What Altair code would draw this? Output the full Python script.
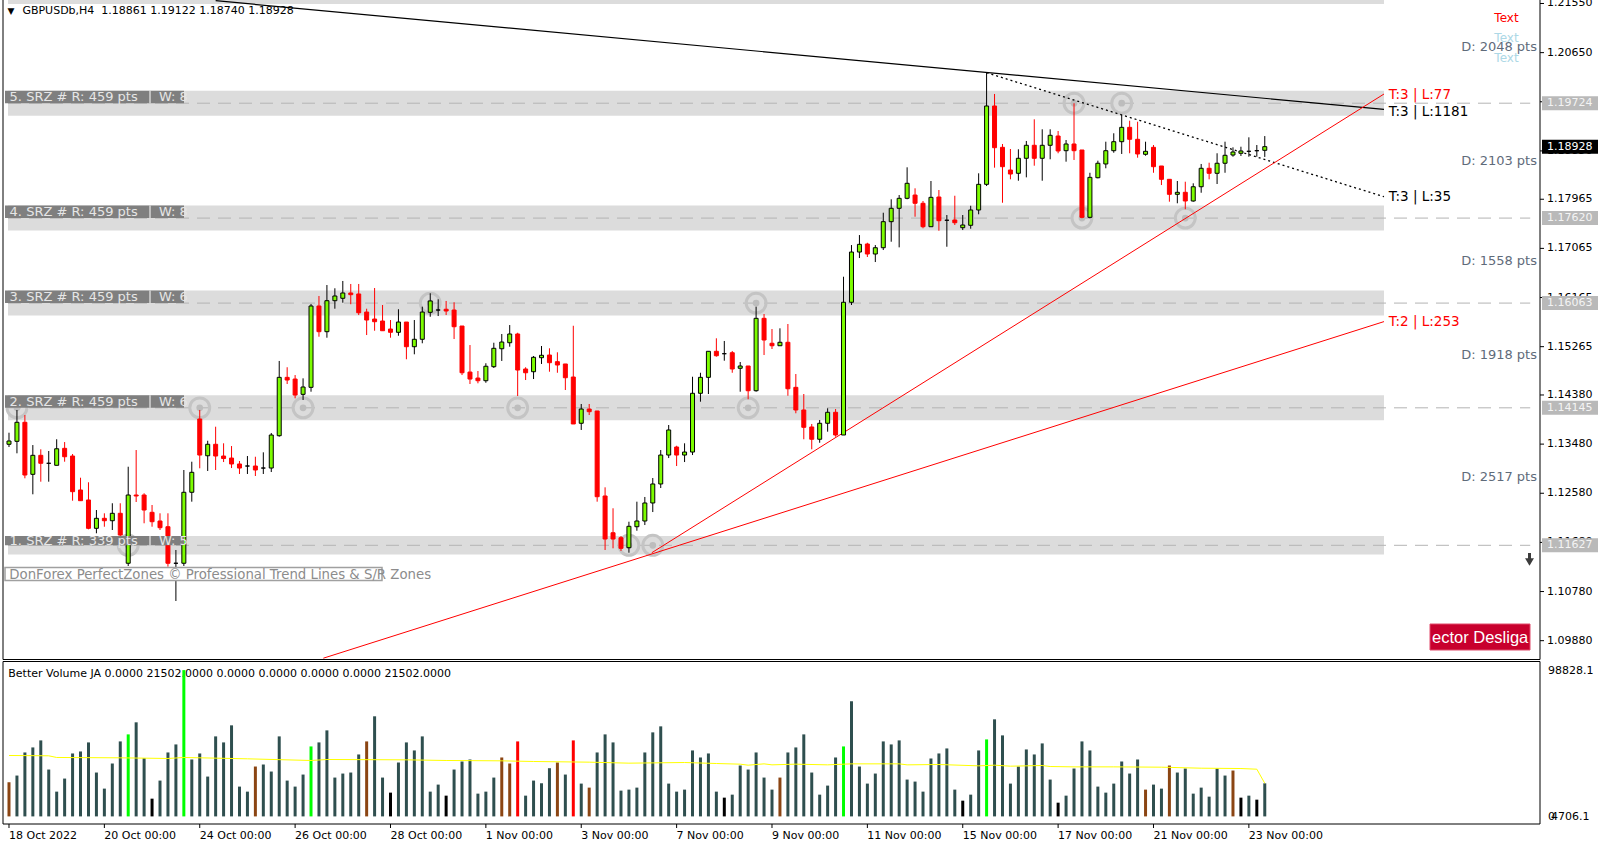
import altair as alt
import pandas as pd

# ---------------- data ----------------
SYMBOL = "GBPUSDb,H4"

OPEN = [1.13477, 1.13531, 1.13880, 1.12927, 1.13275, 1.13129, 1.13092, 1.13403, 1.13262, 1.12640,
        1.12457, 1.11938, 1.12121, 1.12077, 1.12213, 1.11298, 1.12548, 1.12548, 1.12231, 1.12072,
        1.11967, 1.11298, 1.11298, 1.12598, 1.13940, 1.13267, 1.13477, 1.13262, 1.13225, 1.13116,
        1.13079, 1.13079, 1.13042, 1.13042, 1.13634, 1.14703, 1.14672, 1.14392, 1.14520, 1.16010,
        1.15539, 1.16107, 1.16151, 1.16248, 1.16230, 1.15899, 1.15771, 1.15735, 1.15588, 1.15528,
        1.15716, 1.15264, 1.15400, 1.15894, 1.15936, 1.15950, 1.15936, 1.15643, 1.14800, 1.14690,
        1.14641, 1.14898, 1.15227, 1.15337, 1.15497, 1.14856, 1.14806, 1.15063, 1.15112, 1.14990,
        1.14948, 1.14709, 1.13862, 1.14123, 1.14087, 1.12530, 1.11857, 1.11766, 1.11583, 1.11967,
        1.12072, 1.12402, 1.12750, 1.13280, 1.13427, 1.13280, 1.13335, 1.14411, 1.14703, 1.15180,
        1.15136, 1.15154, 1.14869, 1.14911, 1.14458, 1.15784, 1.15327, 1.15282, 1.15345, 1.14520,
        1.14105, 1.13794, 1.13569, 1.13862, 1.14063, 1.13647, 1.16078, 1.16998, 1.17145, 1.16962,
        1.17077, 1.17554, 1.17799, 1.17982, 1.18042, 1.17891, 1.17462, 1.18006, 1.17580, 1.17585,
        1.17444, 1.17488, 1.17768, 1.18238, 1.19673, 1.18916, 1.18500, 1.18440, 1.18715, 1.18953,
        1.18715, 1.18953, 1.19123, 1.18854, 1.18977, 1.18867, 1.17634, 1.18359, 1.18611, 1.18854,
        1.19019, 1.19282, 1.19063, 1.18788, 1.18916, 1.18574, 1.18330, 1.18055, 1.18092, 1.17933,
        1.18194, 1.18532, 1.18440, 1.18624, 1.18775, 1.18807, 1.18843, 1.18854, 1.18861]

HIGH = [1.13689, 1.14105, 1.14013, 1.13463, 1.13385, 1.13354, 1.13569, 1.13518, 1.13299, 1.12865,
        1.12781, 1.12273, 1.12213, 1.12397, 1.12397, 1.13066, 1.13372, 1.12580, 1.12365, 1.12213,
        1.12213, 1.11541, 1.13006, 1.13158, 1.14105, 1.13542, 1.13799, 1.13495, 1.13445, 1.13171,
        1.13262, 1.13249, 1.13330, 1.13684, 1.15003, 1.14888, 1.14745, 1.14685, 1.16047, 1.16193,
        1.16394, 1.16334, 1.16468, 1.16413, 1.16413, 1.15960, 1.16339, 1.16028, 1.15753, 1.15950,
        1.15716, 1.15753, 1.15997, 1.16243, 1.16133, 1.16102, 1.16078, 1.15643, 1.15295, 1.14819,
        1.14961, 1.15337, 1.15497, 1.15661, 1.15520, 1.14888, 1.15094, 1.15277, 1.15235, 1.15162,
        1.14948, 1.15648, 1.14215, 1.14215, 1.14087, 1.12689, 1.12305, 1.11797, 1.12059, 1.12426,
        1.12512, 1.12859, 1.13372, 1.13830, 1.13450, 1.13495, 1.14714, 1.14787, 1.15180, 1.15418,
        1.15369, 1.15186, 1.14984, 1.14911, 1.15997, 1.15863, 1.15588, 1.15601, 1.15680, 1.14764,
        1.14398, 1.13849, 1.13922, 1.14136, 1.14123, 1.16546, 1.17126, 1.17309, 1.17168, 1.17126,
        1.17718, 1.17964, 1.18042, 1.18550, 1.18165, 1.17933, 1.18299, 1.18134, 1.17676, 1.18029,
        1.17676, 1.17846, 1.18440, 1.20282, 1.19893, 1.18977, 1.18885, 1.18880, 1.19032, 1.19429,
        1.19246, 1.19246, 1.19215, 1.19050, 1.19723, 1.18867, 1.18450, 1.18671, 1.19019, 1.19173,
        1.19507, 1.19403, 1.19385, 1.19019, 1.18958, 1.18574, 1.18330, 1.18299, 1.18286, 1.18257,
        1.18611, 1.18634, 1.18807, 1.19019, 1.18916, 1.18927, 1.19099, 1.18958, 1.19122]

LOW = [1.13427, 1.13312, 1.12854, 1.12561, 1.12792, 1.12792, 1.13092, 1.13158, 1.12444, 1.12439,
       1.11920, 1.11847, 1.11967, 1.11907, 1.11706, 1.11248, 1.12420, 1.12030, 1.11967, 1.11907,
       1.11235, 1.10607, 1.11248, 1.12426, 1.13037, 1.12988, 1.13006, 1.13152, 1.13042, 1.12933,
       1.12933, 1.12896, 1.12933, 1.12969, 1.13616, 1.14581, 1.14319, 1.14288, 1.14440, 1.15447,
       1.15429, 1.15960, 1.16070, 1.16042, 1.15844, 1.15478, 1.15557, 1.15557, 1.15429, 1.15465,
       1.15034, 1.15125, 1.15327, 1.15813, 1.15826, 1.15844, 1.15405, 1.14745, 1.14581, 1.14594,
       1.14604, 1.14874, 1.15003, 1.15264, 1.14361, 1.14654, 1.14672, 1.14948, 1.14806, 1.14787,
       1.14471, 1.13849, 1.13739, 1.14013, 1.12426, 1.11541, 1.11572, 1.11523, 1.11491, 1.11894,
       1.11998, 1.12236, 1.12676, 1.13225, 1.13079, 1.13152, 1.13280, 1.14257, 1.14398, 1.15081,
       1.15008, 1.14787, 1.14440, 1.14301, 1.14440, 1.15112, 1.15222, 1.15282, 1.14366, 1.14045,
       1.13569, 1.13385, 1.13505, 1.13708, 1.13616, 1.13647, 1.16028, 1.16888, 1.16907, 1.16815,
       1.17035, 1.17187, 1.17084, 1.17964, 1.17645, 1.17433, 1.17462, 1.17388, 1.17095, 1.17493,
       1.17401, 1.17425, 1.17689, 1.18207, 1.18543, 1.17901, 1.18330, 1.18304, 1.18366, 1.18579,
       1.18304, 1.18697, 1.18807, 1.18653, 1.18684, 1.17616, 1.17616, 1.18348, 1.18532, 1.18817,
       1.18794, 1.18807, 1.18726, 1.18762, 1.18450, 1.18225, 1.17920, 1.17891, 1.17781, 1.17920,
       1.18084, 1.18330, 1.18244, 1.18450, 1.18744, 1.18757, 1.18744, 1.18744, 1.18740]

CLOSE = [1.13537, 1.13880, 1.12914, 1.13275, 1.13129, 1.13129, 1.13395, 1.13249, 1.12609, 1.12444,
         1.11938, 1.12121, 1.12077, 1.12213, 1.11815, 1.12548, 1.12530, 1.12273, 1.12059, 1.11949,
         1.11298, 1.11298, 1.12598, 1.12964, 1.13280, 1.13477, 1.13262, 1.13216, 1.13116, 1.13042,
         1.13079, 1.13006, 1.13042, 1.13647, 1.14703, 1.14654, 1.14379, 1.14526, 1.16010, 1.15539,
         1.16107, 1.16193, 1.16248, 1.16217, 1.15886, 1.15753, 1.15722, 1.15557, 1.15528, 1.15716,
         1.15264, 1.15400, 1.15899, 1.16102, 1.15936, 1.15918, 1.15630, 1.14787, 1.14672, 1.14641,
         1.14906, 1.15235, 1.15350, 1.15497, 1.14837, 1.14787, 1.15070, 1.15107, 1.14971, 1.14929,
         1.14696, 1.13849, 1.14123, 1.14074, 1.12517, 1.11742, 1.11742, 1.11572, 1.11975, 1.12072,
         1.12402, 1.12750, 1.13280, 1.13739, 1.13280, 1.13335, 1.14411, 1.14703, 1.15180, 1.15099,
         1.15136, 1.14856, 1.14911, 1.14458, 1.15784, 1.15387, 1.15282, 1.15345, 1.14494, 1.14105,
         1.13788, 1.13569, 1.13862, 1.14063, 1.13647, 1.16078, 1.16998, 1.17139, 1.16962, 1.17077,
         1.17554, 1.17799, 1.17982, 1.18257, 1.17891, 1.17462, 1.18000, 1.17572, 1.17580, 1.17535,
         1.17493, 1.17768, 1.18238, 1.19673, 1.18909, 1.18561, 1.18427, 1.18715, 1.18953, 1.18715,
         1.18953, 1.19136, 1.18849, 1.18977, 1.18854, 1.17634, 1.18366, 1.18624, 1.18854, 1.19019,
         1.19282, 1.19063, 1.18794, 1.18843, 1.18561, 1.18330, 1.18055, 1.18092, 1.17933, 1.18194,
         1.18532, 1.18440, 1.18624, 1.18770, 1.18830, 1.18849, 1.18843, 1.18854, 1.18928]

VOLUME = [22200, 26550, 41560, 44830, 49400, 30460, 16100, 24590, 40910, 42210,
          48090, 28510, 18060, 34380, 48740, 53310, 61150, 37860, 11530, 23280,
          41560, 46780, 95090, 36990, 40910, 25890, 52010, 48090, 59190, 19370,
          16100, 32420, 33730, 29160, 52010, 23280, 19370, 27200, 45480, 48090,
          55920, 25240, 27850, 28510, 40260, 48740, 65060, 25240, 15450, 35030,
          48090, 42870, 52010, 16100, 20670, 13490, 30460, 35690, 36990, 14800,
          16100, 25240, 38300, 34380, 48740, 13490, 23280, 21540, 31330, 35030,
          27200, 49400, 21320, 18710, 41560, 53310, 48090, 16760, 17410, 18710,
          41560, 54620, 58530, 21320, 16100, 17410, 42870, 38300, 40910, 16100,
          12190, 14140, 33080, 30460, 41560, 25240, 17410, 25240, 41560, 44830,
          53310, 28510, 14140, 20020, 38300, 45480, 74850, 32420, 21320, 27850,
          48740, 46780, 49400, 23940, 22630, 16100, 37640, 40910, 44170, 17410,
          10230, 14140, 42870, 50050, 63100, 52660, 21320, 32420, 43520, 40260,
          47440, 23940, 8920, 13490, 31120, 48740, 42870, 19370, 15450, 21320,
          35690, 27850, 36990, 17410, 20670, 18060, 33080, 28510, 31120, 14800,
          18710, 12840, 31120, 26550, 29810, 12190, 13490, 10880, 21502]

# bars whose volume column is not the normal dark one
VOL_KIND = {0: "brown", 15: "green", 18: "black", 22: "green", 31: "brown", 38: "green",
            45: "brown", 48: "black", 55: "black", 62: "brown", 63: "brown", 64: "red",
            69: "brown", 71: "red", 73: "brown", 90: "black", 97: "brown", 105: "green",
            120: "black", 123: "green", 132: "black", 143: "brown", 146: "brown",
            154: "brown", 155: "black", 157: "black"}

# volume average line (bar, value)
MA_BARS = [0, 5, 6, 14, 20, 22, 30, 38, 40, 50, 55, 62, 66, 73, 78, 85, 89, 92, 93, 95, 96, 99,
           103, 106, 112, 113, 117, 122, 124, 126, 130, 131, 134, 139, 145, 150, 155, 157, 158]
MA_VALUES = [39600, 39390, 38300, 38080, 37640, 38300, 37430, 36340, 36990, 36770, 36340, 36120,
             35690, 35250, 34600, 35030, 34380, 33950, 33290, 34160, 33510, 33950, 33510, 34160,
             34160, 33510, 33730, 32860, 33290, 32640, 33080, 32420, 32200, 32200, 31990, 31330,
             31120, 30680, 21540]

X_TICK_BARS = [0, 12, 24, 36, 48, 60, 72, 84, 96, 108, 120, 132, 144, 156]
X_TICK_LABELS = ["18 Oct 2022", "20 Oct 00:00", "24 Oct 00:00", "26 Oct 00:00", "28 Oct 00:00",
                 "1 Nov 00:00", "3 Nov 00:00", "7 Nov 00:00", "9 Nov 00:00", "11 Nov 00:00",
                 "15 Nov 00:00", "17 Nov 00:00", "21 Nov 00:00", "23 Nov 00:00"]
PRICE_TICKS = [1.2155, 1.2065, 1.1975, 1.1885, 1.17965, 1.17065, 1.16165, 1.15265,
               1.1438, 1.1348, 1.1258, 1.1168, 1.1078, 1.0988]
VOL_AXIS_TOP = "98828.1"
VOL_AXIS_BOTTOM = ["0", "4706.1"]

# support / resistance zones
ZONE_LEVELS = [1.11627, 1.14145, 1.16063, 1.17620, 1.19724, 1.21772]
ZONE_RANGE_PTS = [339, 459, 459, 459, 459, 459]
ZONE_NAMES = ["1. SRZ # R: 339 pts", "2. SRZ # R: 459 pts", "3. SRZ # R: 459 pts",
              "4. SRZ # R: 459 pts", "5. SRZ # R: 459 pts", ""]
ZONE_WEIGHTS = ["W: 5", "W: 6", "W: 6", "W: 8", "W: 8", ""]
D_LABELS = ["D: 2517 pts", "D: 1918 pts", "D: 1558 pts", "D: 2103 pts", "D: 2048 pts"]
ZONE_END_BAR = 173
DASH_END_BAR = 191.4

# touch markers (bar, zone level)
TOUCH_BARS = [15, 78, 81, 1, 24, 37, 64, 93, 53, 94, 135, 148, 134, 140]
TOUCH_LEVELS = [1.11627, 1.11627, 1.11627, 1.14145, 1.14145, 1.14145, 1.14145, 1.14145,
                1.16063, 1.16063, 1.17620, 1.17620, 1.19724, 1.19724]

# trend lines
TL_TEXT = ["T:3 | L:1181", "T:3 | L:35", "T:3 | L:77", "T:2 | L:253"]
TL_BAR0 = [26.0, 123.0, 80.875, 39.55]
TL_P0 = [1.21601, 1.20282, 1.11491, 1.09559]
TL_BAR1 = [173.0, 173.0, 173.0, 173.0]
TL_P1 = [1.19610, 1.18011, 1.19892, 1.15724]
TL_LABEL_P = [1.19568, 1.18006, 1.19874, 1.15711]

LAST_PRICE = CLOSE[-1]

# ---------------- scales ----------------
W, H = 1537, 824
X_DOM = [-0.125, 192.0]
PRICE_DOM = [1.065226, 1.216141]
VOL_DOM = [-4940, 530660]
FONT = "DejaVu Sans"


def PX(f):
    return alt.X(f, scale=alt.Scale(domain=X_DOM, nice=False, zero=False), axis=None)


def PY(f):
    return alt.Y(f, scale=alt.Scale(domain=PRICE_DOM, nice=False, zero=False), axis=None)


def VY(f):
    return alt.Y(f, scale=alt.Scale(domain=VOL_DOM, nice=False, zero=False), axis=None)


def RAWX(f):
    return alt.X(f, scale=None, axis=None)


def RAWY(f):
    return alt.Y(f, scale=None, axis=None)


n = len(OPEN)
cd = pd.DataFrame({"i": list(range(n)), "o": OPEN, "h": HIGH, "l": LOW, "c": CLOSE})
cd["wick"] = ["#FF0000" if c < o else "#000000" for o, c in zip(OPEN, CLOSE)]
cd["fill"] = ["#7CFC00" if c > o else ("#FF0000" if c < o else "#000000") for o, c in zip(OPEN, CLOSE)]
cd["edge"] = ["#FF0000" if c < o else "#000000" for o, c in zip(OPEN, CLOSE)]

VOL_COLORS = {"normal": "#2F4F4F", "green": "#00FF00", "red": "#FF0000",
              "brown": "#8B4513", "black": "#000000"}
vd = pd.DataFrame({"i": list(range(n)), "v": VOLUME})
vd["base"] = 0
vd["col"] = [VOL_COLORS[VOL_KIND.get(k, "normal")] for k in range(n)]
mad = pd.DataFrame({"i": MA_BARS, "v": MA_VALUES})

zd = pd.DataFrame({"level": ZONE_LEVELS, "pts": ZONE_RANGE_PTS, "name": ZONE_NAMES, "w": ZONE_WEIGHTS})
zd["top"] = zd["level"] + zd["pts"] * 0.00001 / 2
zd["bot"] = zd["level"] - zd["pts"] * 0.00001 / 2
zd["mid"] = (zd["top"] + zd["level"]) / 2
zd["x0"] = X_DOM[0]
zd["x1"] = ZONE_END_BAR
zd["xd"] = DASH_END_BAR
zl = zd[zd["name"] != ""].reset_index(drop=True)

dd = pd.DataFrame({"text": D_LABELS,
                   "y": [(a + b) / 2 for a, b in zip(ZONE_LEVELS[:-1], ZONE_LEVELS[1:])]})

td = pd.DataFrame({"i": TOUCH_BARS, "p": TOUCH_LEVELS})

rows = []
for k in range(len(TL_TEXT)):
    rows.append({"id": k, "i": TL_BAR0[k], "p": TL_P0[k]})
    rows.append({"id": k, "i": TL_BAR1[k], "p": TL_P1[k]})
tld = pd.DataFrame(rows)
tl_black = tld[tld["id"] == 0]
tl_dot = tld[tld["id"] == 1]
tl_red = tld[tld["id"] >= 2]
tll = pd.DataFrame({"i": [b + 0.6 for b in TL_BAR1], "p": TL_LABEL_P, "text": TL_TEXT,
                    "col": ["#000000", "#000000", "#FF0000", "#FF0000"]})

half_box = 7 / 5460
bx = pd.DataFrame({"p": ZONE_LEVELS[:5] + [LAST_PRICE]})
bx["top"] = bx["p"] + half_box
bx["bot"] = bx["p"] - half_box
bx["fill"] = ["#B9B9B9"] * 5 + ["#000000"]
bx["tcol"] = ["#F4F4F4"] * 5 + ["#FFFFFF"]
bx["text"] = [f"{v:.5f}" for v in bx["p"]]

ptk = pd.DataFrame({"p": PRICE_TICKS, "label": [f"{v:.5f}" for v in PRICE_TICKS]})
xtk = pd.DataFrame({"i": X_TICK_BARS, "label": X_TICK_LABELS})

# ---------------- price panel ----------------
bands = alt.Chart(zd).mark_rect(color="#DCDCDC").encode(
    x=PX("x0:Q"), x2="x1:Q", y=PY("bot:Q"), y2="top:Q")
dashes = alt.Chart(zl).mark_rule(color="#B4B4B4", strokeWidth=1, strokeDash=[13, 8]).encode(
    x=PX("x0:Q"), x2="xd:Q", y=PY("level:Q"))
rings = alt.Chart(td).mark_point(shape="circle", size=395, strokeWidth=3, filled=False,
                                 color="#C4C4C4", opacity=1).encode(x=PX("i:Q"), y=PY("p:Q"))
dots = alt.Chart(td).mark_point(shape="circle", size=45, filled=True,
                                color="#BDBDBD", opacity=1).encode(x=PX("i:Q"), y=PY("p:Q"))
line_black = alt.Chart(tl_black).mark_line(color="#000000", strokeWidth=1.2).encode(
    x=PX("i:Q"), y=PY("p:Q"))
line_dot = alt.Chart(tl_dot).mark_line(color="#000000", strokeWidth=1.3, strokeDash=[2, 3]).encode(
    x=PX("i:Q"), y=PY("p:Q"))
line_red = alt.Chart(tl_red).mark_line(color="#FF0000", strokeWidth=1).encode(
    x=PX("i:Q"), y=PY("p:Q"), detail="id:N")

wicks = alt.Chart(cd).mark_rule(strokeWidth=1).encode(
    x=PX("i:Q"), y=PY("l:Q"), y2="h:Q", color=alt.Color("wick:N", scale=None))
bodies = alt.Chart(cd).mark_bar(size=4, strokeWidth=1).encode(
    x=PX("i:Q"), y=PY("o:Q"), y2="c:Q",
    fill=alt.Fill("fill:N", scale=None), stroke=alt.Stroke("edge:N", scale=None))

zbox = alt.Chart(zl).mark_rect(color="#7F7F7F").encode(
    x=alt.value(2), x2=alt.value(181), y=PY("top:Q"), y2="level:Q")
zsep = alt.Chart(zl).mark_rule(color="#FFFFFF", strokeWidth=1).encode(
    x=alt.value(147), y=PY("top:Q"), y2="level:Q")
zname = alt.Chart(zl).mark_text(align="left", baseline="middle", font=FONT, fontSize=13,
                                color="#E6E6E6").encode(x=alt.value(6.6), y=PY("mid:Q"), text="name:N")
zw = alt.Chart(zl).mark_text(align="left", baseline="middle", font=FONT, fontSize=13,
                             color="#E6E6E6").encode(x=alt.value(156), y=PY("mid:Q"), text="w:N")

dlab = alt.Chart(dd).mark_text(align="right", baseline="middle", font=FONT, fontSize=13,
                               color="#5F6B7A").encode(x=alt.value(1534), y=PY("y:Q"), text="text:N")
tlab = alt.Chart(tll).mark_text(align="left", baseline="middle", font=FONT, fontSize=13.5).encode(
    x=PX("i:Q"), y=PY("p:Q"), text="text:N", color=alt.Color("col:N", scale=None))

# right price scale drawn by hand (ticks + labels placed through the price scale)
ptick = alt.Chart(ptk).mark_rule(color="#000000", strokeWidth=1).encode(
    x=alt.value(W), x2=alt.value(W + 4), y=PY("p:Q"))
plabel = alt.Chart(ptk).mark_text(align="left", baseline="middle", font=FONT, fontSize=11,
                                  color="#000000").encode(x=alt.value(W + 7), y=PY("p:Q"), text="label:N")

pbox = alt.Chart(bx).mark_rect().encode(
    x=alt.value(1539), x2=alt.value(1595), y=PY("top:Q"), y2="bot:Q",
    fill=alt.Fill("fill:N", scale=None))
ptxt = alt.Chart(bx).mark_text(align="left", baseline="middle", font=FONT, fontSize=11).encode(
    x=alt.value(1544), y=PY("p:Q"), text="text:N", color=alt.Color("tcol:N", scale=None))

price = alt.layer(bands, dashes, rings, dots, line_black, line_dot, line_red, wicks, bodies,
                  zbox, zsep, zname, zw, dlab, tlab, ptick, plabel, pbox, ptxt)

# ---------------- volume panel ----------------
vhead = alt.Chart(pd.DataFrame({"px": [5.3], "py": [673.7],
                                "t": ["Better Volume JA 0.0000 21502.0000 0.0000 0.0000 0.0000 0.0000 21502.0000"]})
                  ).mark_text(align="left", baseline="middle", font=FONT, fontSize=11, color="#000000"
                              ).encode(x=RAWX("px:Q"), y=RAWY("py:Q"), text="t:N")
vbars = alt.Chart(vd).mark_bar(size=3).encode(
    x=PX("i:Q"), y=VY("v:Q"), y2="base:Q", color=alt.Color("col:N", scale=None))
maline = alt.Chart(mad).mark_line(color="#FFFF00", strokeWidth=1).encode(
    x=PX("i:Q"), y=VY("v:Q"))
xtick = alt.Chart(xtk).mark_rule(color="#000000", strokeWidth=1).encode(
    x=PX("i:Q"), y=alt.value(H), y2=alt.value(H + 4))
xlabel = alt.Chart(xtk).mark_text(align="left", baseline="top", font=FONT, fontSize=11,
                                  color="#000000").encode(x=PX("i:Q"), y=alt.value(H + 6), text="label:N")
vol = alt.layer(vhead, vbars, maline, xtick, xlabel)

# ---------------- decorations in pixel space ----------------
header = f"{SYMBOL}\u00a0\u00a0{OPEN[-1]:.5f} {HIGH[-1]:.5f} {LOW[-1]:.5f} {CLOSE[-1]:.5f}"
left_txt = pd.DataFrame({
    "px": [4.6, 19.4, 1545, 1545, 1548],
    "py": [11.4, 11.4, 670.8, 817.4, 817.4],
    "t": ["\u25bc", header, VOL_AXIS_TOP] + VOL_AXIS_BOTTOM,
    "col": ["#000000"] * 5,
    "fs": [9, 11, 11, 11, 11],
})
ltext = alt.Chart(left_txt).mark_text(align="left", baseline="middle", font=FONT).encode(
    x=RAWX("px:Q"), y=RAWY("py:Q"), text="t:N",
    color=alt.Color("col:N", scale=None), size=alt.Size("fs:Q", scale=None))

ctr_txt = pd.DataFrame({"px": [1503.5, 1503.5, 1503.5], "py": [18.3, 38.3, 58.3],
                        "t": ["Text", "Text", "Text"], "col": ["#FF0000", "#ADD8E6", "#ADD8E6"]})
ctext = alt.Chart(ctr_txt).mark_text(align="center", baseline="middle", font=FONT, fontSize=12).encode(
    x=RAWX("px:Q"), y=RAWY("py:Q"), text="t:N", color=alt.Color("col:N", scale=None))

don_box = alt.Chart(pd.DataFrame({"a": [2], "b": [379], "c": [567.5], "d": [580.5]})).mark_rect(
    fill="#FFFFFF", stroke="#A0A0A0", strokeWidth=1.5).encode(
    x=RAWX("a:Q"), x2="b:Q", y=RAWY("c:Q"), y2="d:Q")
don_txt = alt.Chart(pd.DataFrame({"px": [6.3], "py": [574.5],
                                  "t": ["DonForex PerfectZones \u00a9 Professional Trend Lines & S/R Zones"]})
                    ).mark_text(align="left", baseline="middle", font=FONT, fontSize=13.3, color="#8C8C8C"
                                ).encode(x=RAWX("px:Q"), y=RAWY("py:Q"), text="t:N")

btn = alt.Chart(pd.DataFrame({"a": [1427], "b": [1527], "c": [624], "d": [650]})).mark_rect(
    fill="#C8002D", stroke="#E04A6A", strokeWidth=1).encode(
    x=RAWX("a:Q"), x2="b:Q", y=RAWY("c:Q"), y2="d:Q")
btn_txt = alt.Chart(pd.DataFrame({"px": [1429], "py": [637.5], "t": ["ector Desliga"]})).mark_text(
    align="left", baseline="middle", font="Liberation Sans", fontSize=16.5, color="#FFFFFF").encode(
    x=RAWX("px:Q"), y=RAWY("py:Q"), text="t:N")

arrow_stem = alt.Chart(pd.DataFrame({"a": [1526.5], "c": [553], "d": [560]})).mark_rule(
    color="#3C3C3C", strokeWidth=3).encode(x=RAWX("a:Q"), y=RAWY("c:Q"), y2="d:Q")
arrow_head = alt.Chart(pd.DataFrame({"a": [1526.5], "c": [562]})).mark_point(
    shape="triangle-down", filled=True, size=80, color="#3C3C3C", opacity=1).encode(
    x=RAWX("a:Q"), y=RAWY("c:Q"))

frame = pd.DataFrame({
    "x1": [0, W, 0, 0, 0, W, 0],
    "x2": [0, W, W, W, 0, W, W],
    "y1": [0, 0, 659.5, 661.5, 661.5, 661.5, H],
    "y2": [659.5, 659.5, 659.5, 661.5, H, H, H],
})
borders = alt.Chart(frame).mark_rule(color="#000000", strokeWidth=1).encode(
    x=RAWX("x1:Q"), x2="x2:Q", y=RAWY("y1:Q"), y2="y2:Q")

deco = alt.layer(don_box, don_txt, ctext, ltext, btn, btn_txt, arrow_stem, arrow_head, borders)

chart = alt.layer(price, vol, deco).resolve_scale(y="independent").properties(
    width=W, height=H,
    autosize=alt.AutoSizeParams(type="none"),
    padding={"left": 3, "top": 0, "right": 65, "bottom": 26},
    background="#FFFFFF",
).configure_view(strokeOpacity=0)

chart.save("out.html", embed_options={"renderer": "svg", "actions": False})
